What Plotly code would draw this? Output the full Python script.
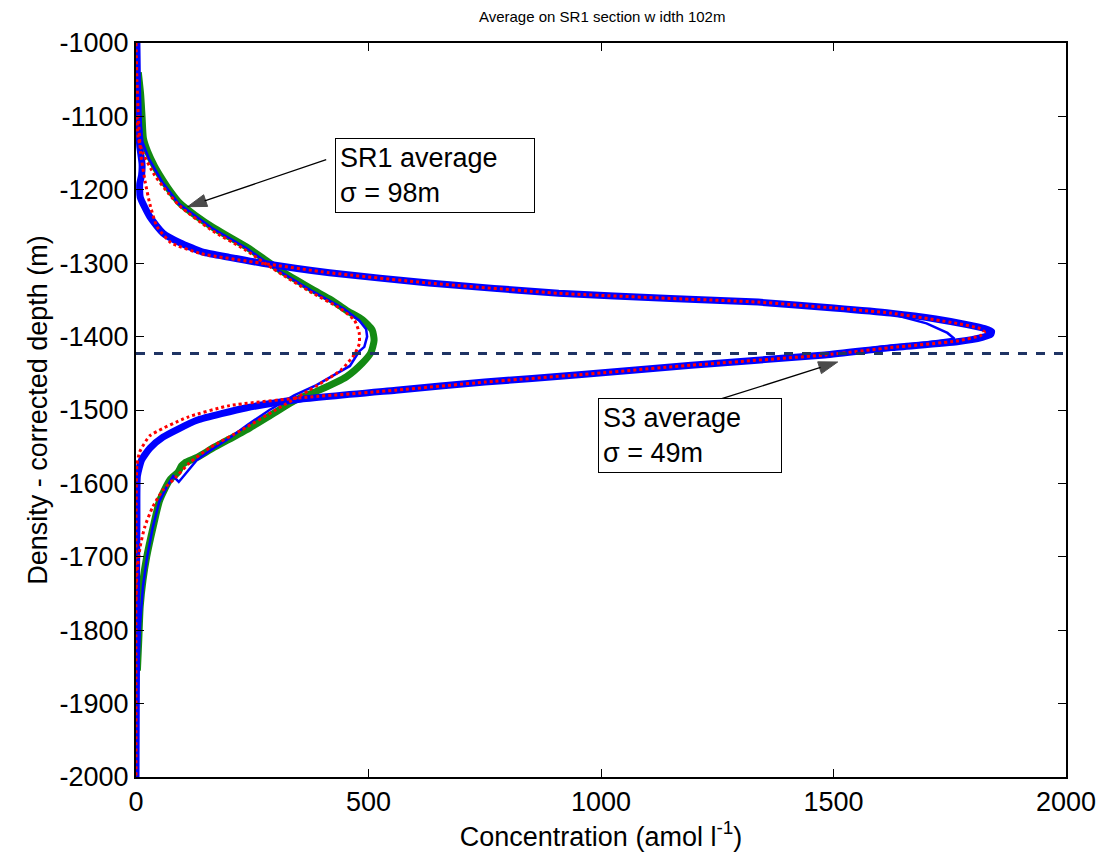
import plotly.graph_objects as go

# ---------------- data (concentration, depth) ----------------
# S3 average profile: thick blue measured curve
s3_conc = [2, 3, 5, 8, 13, 12, 8, 9, 30, 58, 94, 144, 201, 272, 416, 630, 909, 1150, 1338, 1500,
           1623, 1720, 1790, 1825, 1840, 1838, 1820, 1766, 1623, 1481, 1194, 952, 750, 559, 345,
           238, 131, 58, 30, 12, 3, 2, 1, 1, 0]
s3_depth = [-1000, -1050, -1100, -1140, -1165, -1180, -1192, -1210, -1237, -1259, -1272, -1285,
            -1292, -1300, -1313, -1327, -1341, -1348, -1353, -1361, -1368, -1376, -1384, -1389,
            -1393, -1397, -1401, -1407, -1415, -1425, -1439, -1452, -1462, -1473, -1486, -1497,
            -1514, -1537, -1552, -1568, -1590, -1650, -1750, -1850, -2000]

# S3 thin blue curve
s3b_conc = [1, 3, 6, 12, 8, 10, 30, 58, 94, 144, 201, 272, 416, 630, 909, 1150, 1338, 1500,
            1623, 1700, 1745, 1760, 1700, 1600, 1481, 1194, 952, 750, 559, 345, 238, 131, 58,
            30, 9, 3, 1, 0]
s3b_depth = [-1000, -1060, -1110, -1170, -1195, -1212, -1238, -1260, -1273, -1286, -1293,
             -1301, -1314, -1328, -1342, -1349, -1354, -1362, -1369, -1382, -1395, -1403, -1408,
             -1414, -1424, -1438, -1451, -1461, -1472, -1485, -1496, -1513, -1536, -1551, -1567,
             -1590, -1700, -2000]

# S3 red dotted curve
s3r_conc = [0, 2, 5, 10, 20, 30, 45, 75, 140, 270, 416, 630, 909, 1150, 1338, 1500, 1623,
            1766, 1815, 1825, 1815, 1766, 1623, 1481, 1194, 952, 750, 559, 345, 201, 110, 30,
            8, 2, 0, 0]
s3r_depth = [-1000, -1050, -1100, -1150, -1190, -1220, -1250, -1272, -1287, -1300, -1313,
             -1327, -1341, -1348, -1353, -1361, -1368, -1382, -1389, -1394, -1399, -1406,
             -1415, -1425, -1439, -1452, -1462, -1473, -1484, -1494, -1510, -1535, -1557,
             -1575, -1650, -2000]

# SR1 average profile: thick green curve
sr1_conc = [5, 10, 13, 16, 25, 40, 58, 75, 94, 128, 165, 200, 238, 275, 309, 345, 380, 420,
            452, 487, 508, 512, 505, 487, 452, 394, 345, 300, 238, 200, 165, 130, 105, 98, 90,
            73, 51, 37, 23, 15, 9, 6, 3]
sr1_depth = [-1040, -1070, -1100, -1130, -1148, -1168, -1187, -1203, -1218, -1235, -1251,
             -1264, -1278, -1294, -1309, -1323, -1336, -1350, -1364, -1377, -1391, -1405,
             -1422, -1436, -1455, -1473, -1486, -1503, -1527, -1540, -1552, -1565, -1572,
             -1576, -1585, -1595, -1623, -1659, -1700, -1732, -1768, -1813, -1855]

# SR1 thin blue curve
sr1b_conc = [3, 8, 14, 28, 56, 92, 163, 236, 306, 376, 447, 480, 495, 497, 491, 480, 460, 420,
             388, 340, 287, 240, 201, 160, 131, 92, 80, 66, 50, 36, 24, 15, 9, 5, 3, 2]
sr1b_depth = [-1050, -1100, -1135, -1158, -1189, -1219, -1252, -1279, -1310, -1337, -1362,
              -1378, -1390, -1400, -1414, -1420, -1440, -1455, -1466, -1480, -1500, -1520,
              -1538, -1555, -1568, -1598, -1590, -1605, -1625, -1660, -1700, -1740, -1790,
              -1850, -1900, -2000]

# SR1 red dotted curve
sr1r_conc = [2, 5, 15, 40, 70, 94, 160, 233, 303, 372, 440, 470, 480, 480, 470, 440, 370, 300,
             228, 160, 115, 85, 58, 36, 19, 9, 2, 0]
sr1r_depth = [-1100, -1130, -1150, -1180, -1205, -1222, -1254, -1281, -1311, -1338, -1362,
              -1378, -1395, -1410, -1424, -1446, -1474, -1500, -1527, -1551, -1572, -1592,
              -1609, -1632, -1659, -1686, -1722, -1760]

ref_depth = -1423

# annotation arrows (tail -> head), concentration / depth
sr1_arrow_x = [409, 111]
sr1_arrow_y = [-1159, -1223]
s3_arrow_x = [1258, 1509]
s3_arrow_y = [-1485, -1434.6]

x_ticks = [0, 500, 1000, 1500, 2000]
y_ticks = [-2000, -1900, -1800, -1700, -1600, -1500, -1400, -1300, -1200, -1100, -1000]

FONT = "Liberation Sans, Arial, sans-serif"

fig = go.Figure()
fig.add_trace(go.Scatter(x=sr1_conc, y=sr1_depth, mode="lines",
                         line=dict(color="#138a13", width=7, shape="spline", smoothing=0.6)))
fig.add_trace(go.Scatter(x=s3_conc, y=s3_depth, mode="lines",
                         line=dict(color="#0000ff", width=7, shape="spline", smoothing=0.5)))
fig.add_trace(go.Scatter(x=s3b_conc, y=s3b_depth, mode="lines",
                         line=dict(color="#0000ff", width=2.5)))
fig.add_trace(go.Scatter(x=sr1b_conc, y=sr1b_depth, mode="lines",
                         line=dict(color="#0000ff", width=2.5)))
fig.add_trace(go.Scatter(x=s3r_conc, y=s3r_depth, mode="lines",
                         line=dict(color="#ff0000", width=3, dash="dot", shape="spline",
                                   smoothing=0.5)))
fig.add_trace(go.Scatter(x=sr1r_conc, y=sr1r_depth, mode="lines",
                         line=dict(color="#ff0000", width=3, dash="dot", shape="spline",
                                   smoothing=0.6)))
fig.add_trace(go.Scatter(x=[0, 2000], y=[ref_depth, ref_depth], mode="lines",
                         line=dict(color="#1f3464", width=3, dash="dash")))

for ax_, ay_ in ((sr1_arrow_x, sr1_arrow_y), (s3_arrow_x, s3_arrow_y)):
    fig.add_trace(go.Scatter(x=ax_, y=ay_, mode="lines+markers",
                             line=dict(color="black", width=1.3),
                             marker=dict(symbol="arrow", size=[0, 20], angleref="previous",
                                         color="black", line=dict(width=1, color="black"))))

annos = [
    dict(x=644, y=-1181, xref="x", yref="y", showarrow=False,
         text="SR1 average<br>σ = 98m", align="left", xanchor="center", yanchor="middle",
         font=dict(family=FONT, size=27, color="black"), bgcolor="white",
         bordercolor="black", borderwidth=1, borderpad=4, width=190),
    dict(x=1191, y=-1535, xref="x", yref="y", showarrow=False,
         text="S3 average<br>σ = 49m", align="left", xanchor="center", yanchor="middle",
         font=dict(family=FONT, size=27, color="black"), bgcolor="white",
         bordercolor="black", borderwidth=1, borderpad=4, width=174),
]

fig.update_layout(
    width=1108, height=863,
    margin=dict(l=136, r=39, t=43, b=86),
    paper_bgcolor="white", plot_bgcolor="white",
    showlegend=False,
    font=dict(family=FONT, color="black"),
    title=dict(text="Average on SR1 section w idth 102m", x=0.5435, xanchor="center",
               y=0.981, yanchor="middle", font=dict(family=FONT, size=15, color="black")),
    annotations=annos,
    xaxis=dict(range=[0, 2000], tickvals=x_ticks, ticktext=[str(v) for v in x_ticks],
               showgrid=False, zeroline=False, showline=True, linecolor="black",
               linewidth=2, mirror="ticks", ticks="inside", ticklen=8, tickwidth=1,
               tickcolor="black", tickfont=dict(family=FONT, size=27, color="black"),
               title=dict(text="Concentration (amol l<sup>-1</sup>)", standoff=6,
                          font=dict(family=FONT, size=27, color="black"))),
    yaxis=dict(range=[-2000, -1000], tickvals=y_ticks, ticktext=[str(v) for v in y_ticks],
               showgrid=False, zeroline=False, showline=True, linecolor="black",
               linewidth=2, mirror="ticks", ticks="inside", ticklen=8, tickwidth=1,
               tickcolor="black", tickfont=dict(family=FONT, size=27, color="black"),
               title=dict(text="Density - corrected depth (m)", standoff=4,
                          font=dict(family=FONT, size=27, color="black"))),
)

fig.write_html("out.html")
